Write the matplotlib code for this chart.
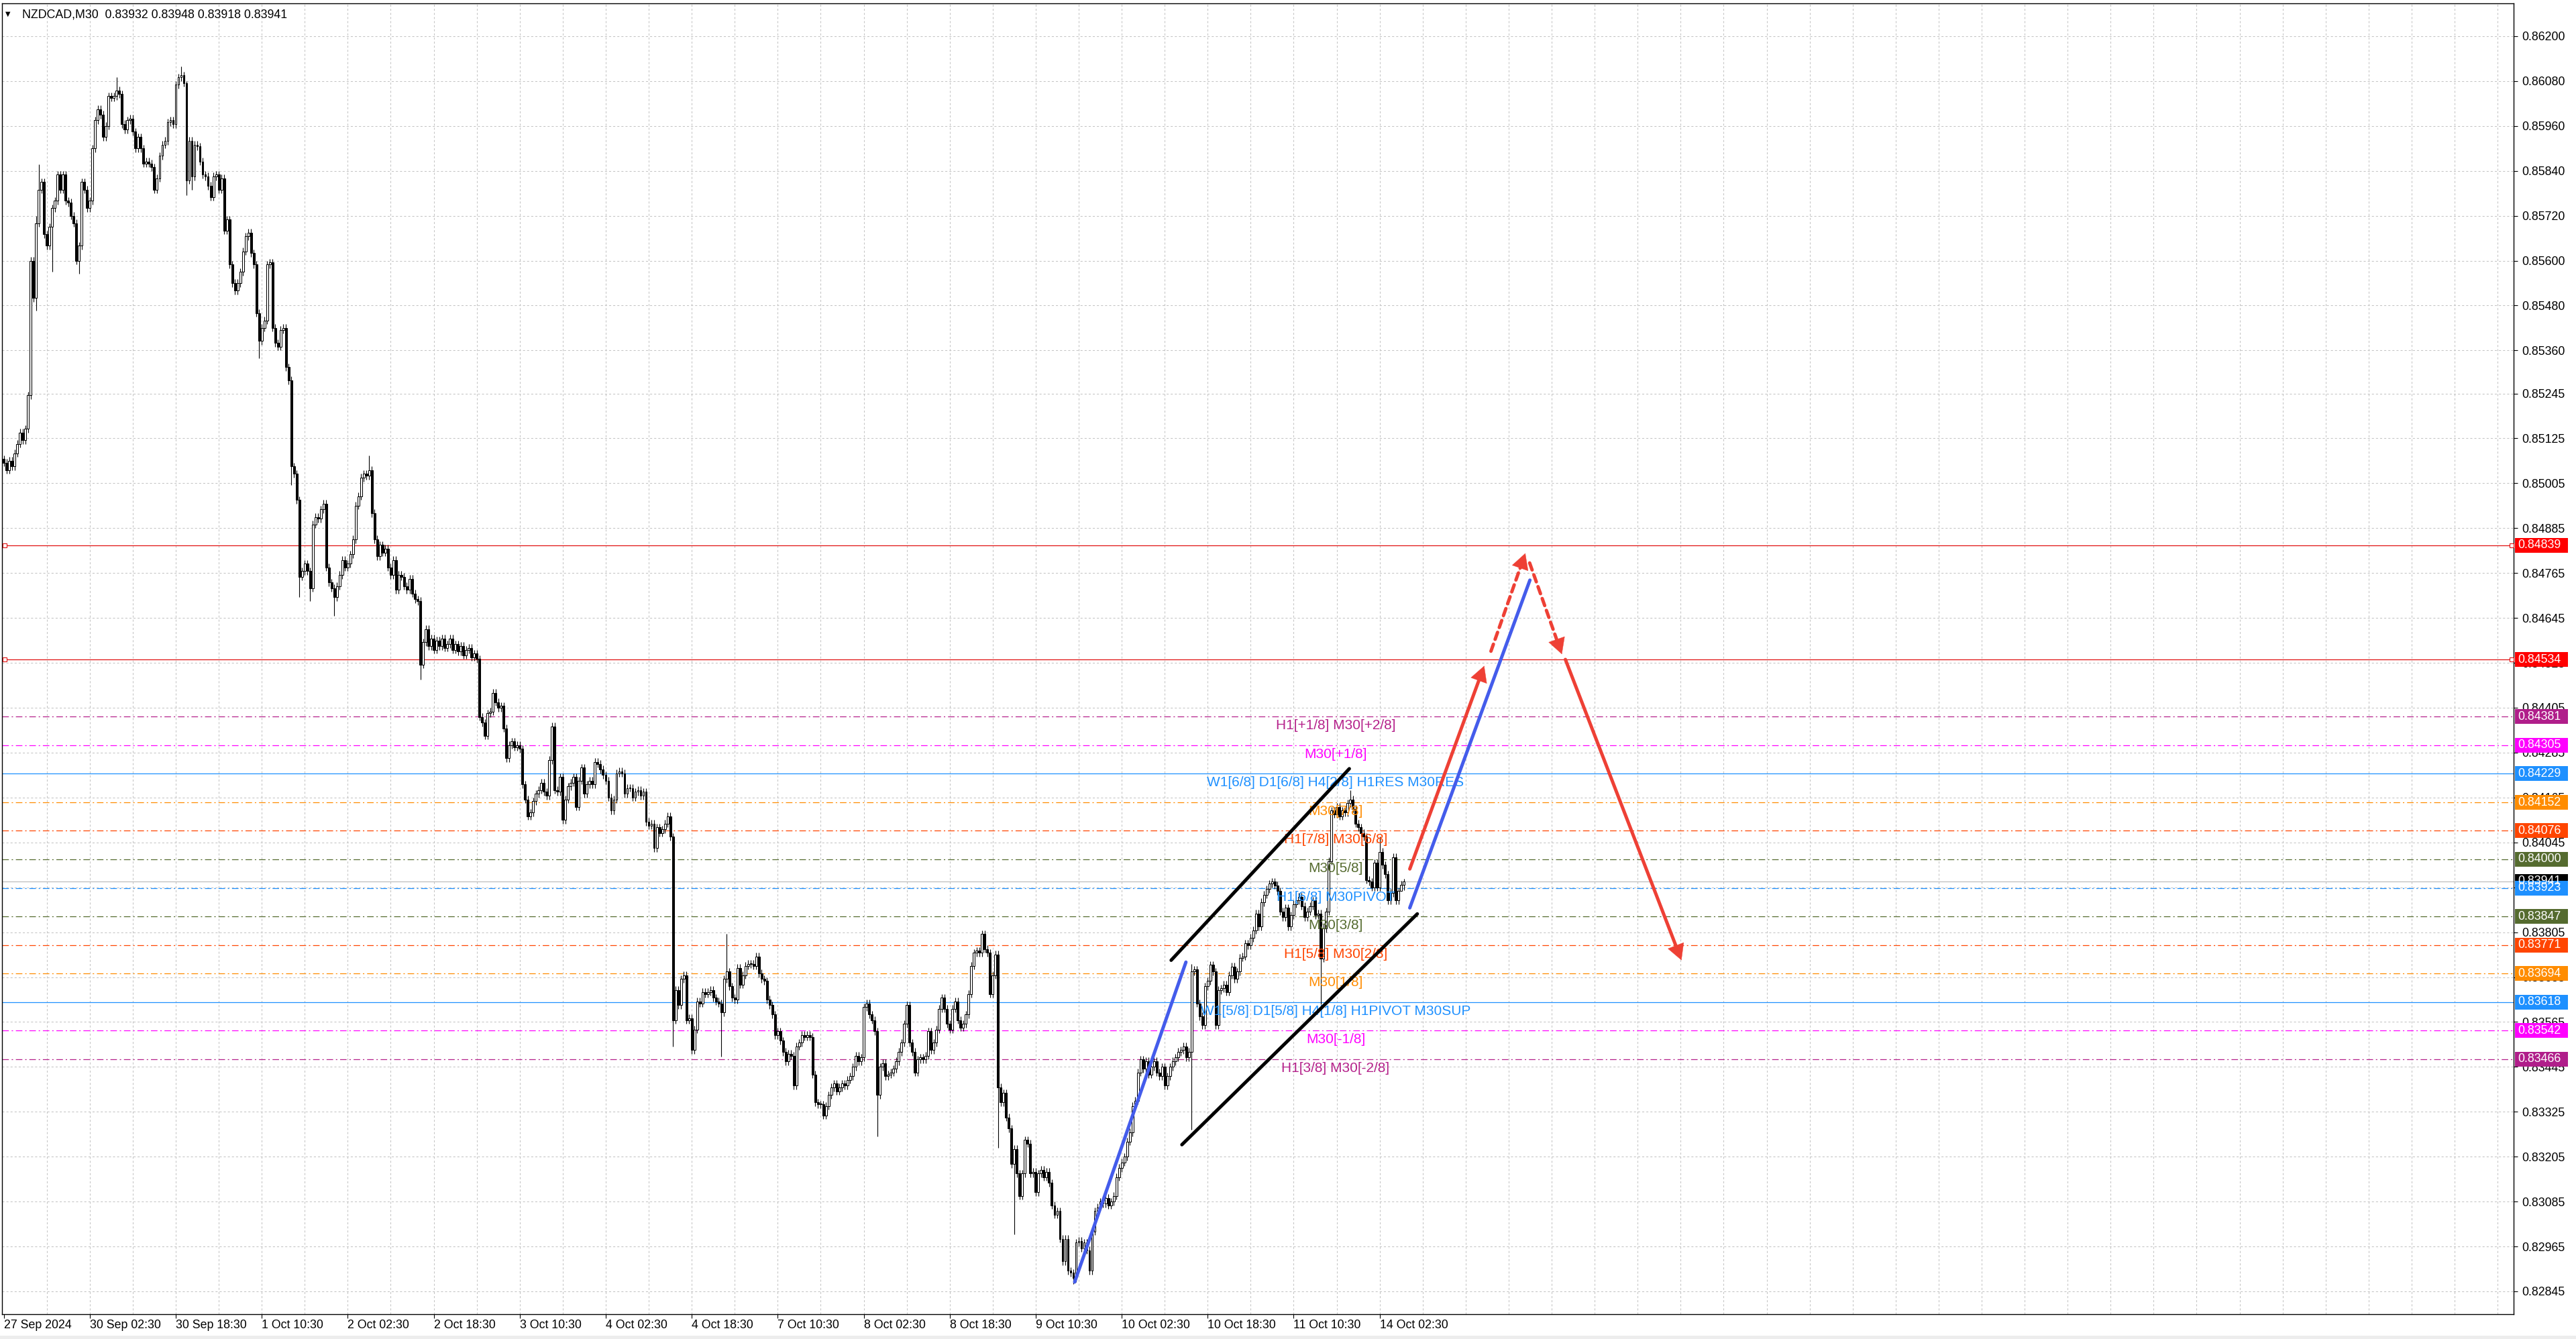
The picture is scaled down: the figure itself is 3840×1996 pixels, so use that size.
import numpy as np
import matplotlib
matplotlib.use("Agg")
import matplotlib.pyplot as plt
from matplotlib.patches import Rectangle, ArrowStyle
from matplotlib.transforms import IdentityTransform

plt.rcParams['lines.scale_dashes'] = False
FONT = 'Liberation Sans'

# ---------------- data ----------------
symbol = "NZDCAD"
timeframe = "M30"
first_open_pips = 85070
close_pips = [
    85060, 85040, 85065, 85050, 85085, 85110, 85140, 85120, 85150, 85240,
    85600, 85500, 85700, 85790, 85810, 85670, 85640, 85690, 85740, 85760,
    85830, 85790, 85830, 85760, 85755, 85720, 85700, 85600, 85640, 85810,
    85790, 85740, 85760, 85900, 85975, 86005, 85990, 85930, 85960, 86040,
    86035, 86040, 86055, 86045, 85965, 85950, 85975, 85980, 85945, 85900,
    85930, 85900, 85860, 85865, 85860, 85850, 85790, 85820, 85880, 85910,
    85920, 85970, 85975, 85965, 86070, 86090, 86095, 86075, 85815, 85920,
    85825, 85910, 85905, 85865, 85830, 85825, 85800, 85770, 85825, 85830,
    85790, 85820, 85680, 85710, 85590, 85540, 85520, 85540, 85570, 85625,
    85665, 85675, 85620, 85590, 85460, 85385, 85420, 85440, 85590, 85595,
    85420, 85380, 85370, 85415, 85420, 85315, 85280, 85050, 85030, 84960,
    84755, 84770, 84790, 84770, 84725, 84895, 84915, 84910, 84935, 84950,
    84780, 84740, 84725, 84700, 84730, 84760, 84800, 84780, 84790, 84815,
    84855, 84945, 84970, 85020, 85030, 85025, 85040, 84925, 84855, 84810,
    84840, 84820, 84830, 84780, 84760, 84800, 84720, 84760, 84755, 84730,
    84720, 84750, 84710, 84695, 84690, 84520, 84580, 84615, 84570, 84590,
    84560, 84585, 84570, 84590, 84565, 84575, 84590, 84560, 84575, 84555,
    84570, 84545, 84560, 84565, 84540, 84550, 84535, 84380, 84365, 84330,
    84390, 84395, 84445, 84420, 84405, 84410, 84350, 84270, 84305, 84315,
    84300, 84305, 84295, 84200, 84160, 84115, 84125, 84155, 84175, 84185,
    84205, 84180, 84170, 84265, 84355, 84185, 84180, 84220, 84105, 84160,
    84195, 84205, 84220, 84140, 84210, 84245, 84175, 84200, 84210, 84200,
    84260, 84255, 84240, 84225, 84210, 84165, 84130, 84160, 84230, 84235,
    84230, 84175, 84190, 84190, 84165, 84180, 84185, 84170, 84180, 84100,
    84090, 84095, 84030, 84085, 84070, 84080, 84095, 84115, 84060, 83570,
    83650, 83610, 83680, 83690, 83570, 83575, 83490, 83545, 83620, 83615,
    83645, 83640, 83645, 83650, 83630, 83620, 83615, 83590, 83680, 83700,
    83660, 83630, 83625, 83710, 83665, 83690, 83715, 83720, 83720, 83715,
    83740, 83695, 83680, 83675, 83625, 83610, 83585, 83530, 83540, 83515,
    83485, 83460, 83480, 83475, 83395, 83500, 83510, 83530, 83525, 83530,
    83525, 83425, 83350, 83345, 83345, 83315, 83340, 83370, 83390, 83400,
    83380, 83390, 83400, 83395, 83410, 83420, 83445, 83475, 83460, 83470,
    83605, 83615, 83585, 83570, 83540, 83370, 83445, 83455, 83420, 83425,
    83430, 83440, 83460, 83485, 83510, 83560, 83610, 83510, 83485, 83430,
    83465, 83470, 83465, 83475, 83540, 83490, 83510, 83545, 83600, 83630,
    83600, 83560, 83545, 83600, 83620, 83570, 83550, 83560, 83585, 83640,
    83715, 83750, 83755, 83750, 83800, 83760, 83750, 83640, 83690, 83745,
    83390, 83350, 83375, 83310, 83280, 83185, 83225, 83160, 83100, 83160,
    83250, 83240, 83160, 83165, 83110, 83160, 83170, 83150, 83165, 83135,
    83075, 83050, 83060, 82985, 82925, 82985, 82900, 82895, 82880, 82975,
    82980, 82960, 82975, 82955, 82900, 83005, 83060, 83070, 83085, 83080,
    83095, 83075, 83085, 83100, 83150, 83175, 83190, 83205, 83245, 83270,
    83340, 83355, 83430, 83465, 83440, 83460, 83425, 83445, 83460, 83430,
    83420, 83445, 83395, 83420, 83445, 83460, 83470, 83485, 83490, 83500,
    83470, 83485, 83700, 83705, 83615, 83580, 83556, 83660, 83675, 83718,
    83700, 83556, 83650, 83655, 83665, 83645, 83690, 83713, 83680, 83700,
    83737, 83740, 83775, 83770, 83790, 83810, 83855, 83820, 83885, 83905,
    83920, 83935, 83940, 83930, 83915, 83860, 83845, 83870, 83820, 83850,
    83880, 83890, 83900, 83875, 83845, 83860, 83875, 83890, 83850, 83855,
    83735, 83815, 83860, 83995, 84130, 84120, 84140, 84115, 84130, 84125,
    84150, 84160, 84135, 84095, 84085, 84070, 84060, 83945, 83940, 83925,
    83990, 83925, 84020, 83985, 83960, 83890, 83910, 84005, 83890, 83915,
    83932, 83941,
]
# notable wick extremes (bar index -> price)
high_override = {10: 0.85610, 12: 0.85720, 13: 0.85857, 42: 0.86090, 66: 0.86120,
                 68: 0.86080, 136: 0.85080, 269: 0.83801, 442: 0.83720,
                 501: 0.84184, 512: 0.84060, 521: 0.83948}
low_override = {12: 0.85467, 18: 0.85571, 28: 0.85565, 68: 0.85775, 70: 0.85790,
                95: 0.85339, 107: 0.85000, 110: 0.84700, 114: 0.84690, 123: 0.84650,
                155: 0.84480, 249: 0.83500, 267: 0.83473, 325: 0.83260, 370: 0.83229,
                376: 0.82997, 398: 0.82865, 442: 0.83277, 490: 0.83613, 520: 0.83918,
                521: 0.83918}

xtick_bars = list(range(0, 513, 32))
xtick_labels = ["27 Sep 2024", "30 Sep 02:30", "30 Sep 18:30", "1 Oct 10:30", "2 Oct 02:30",
                "2 Oct 18:30", "3 Oct 10:30", "4 Oct 02:30", "4 Oct 18:30", "7 Oct 10:30",
                "8 Oct 02:30", "8 Oct 18:30", "9 Oct 10:30", "10 Oct 02:30", "10 Oct 18:30",
                "11 Oct 10:30", "14 Oct 02:30"]
ytick_vals = [0.86200, 0.86080, 0.85960, 0.85840, 0.85720, 0.85600, 0.85480, 0.85360,
              0.85245, 0.85125, 0.85005, 0.84885, 0.84765, 0.84645, 0.84525, 0.84405,
              0.84285, 0.84165, 0.84045, 0.83925, 0.83805, 0.83685, 0.83565, 0.83445,
              0.83325, 0.83205, 0.83085, 0.82965, 0.82845]

level_prices = [0.84381, 0.84305, 0.84229, 0.84152, 0.84076, 0.84000, 0.83923,
                0.83847, 0.83771, 0.83694, 0.83618, 0.83542, 0.83466]
level_names = ["H1[+1/8] M30[+2/8]", "M30[+1/8]", "W1[6/8] D1[6/8] H4[2/8] H1RES M30RES",
               "M30[7/8]", "H1[7/8] M30[6/8]", "M30[5/8]", "H1[6/8] M30PIVOT", "M30[3/8]",
               "H1[5/8] M30[2/8]", "M30[1/8]", "W1[5/8] D1[5/8] H4[1/8] H1PIVOT M30SUP",
               "M30[-1/8]", "H1[3/8] M30[-2/8]"]
level_colors = ["#B5228B", "#FF00FF", "#1E90FF", "#FF8C00", "#FF4500", "#556B2F", "#1E90FF",
                "#556B2F", "#FF4500", "#FF8C00", "#1E90FF", "#FF00FF", "#B5228B"]
level_solid = [False, False, True, False, False, False, False,
               False, False, False, True, False, False]
red_levels = [0.84839, 0.84534]

blue_x = [[398.5, 439.9], [523.2, 567.9]]
blue_y = [[0.82870, 0.83725], [0.83870, 0.84746]]
channel_x = [[434.4, 500.7], [438.4, 526.0]]
channel_y = [[0.83730, 0.84242], [0.83237, 0.83854]]
arrow_x = [[523.2, 550.9], [553.4, 566.2], [567.8, 579.8], [581.1, 624.3]]
arrow_y = [[0.83974, 0.84517], [0.84556, 0.84818], [0.84792, 0.84548], [0.84534, 0.83730]]
arrow_dashed = [False, True, True, False]

# ---------------- layout ----------------
W, H = 3840, 1996
PX_L, PX_R, PX_T, PX_B = 3, 3747, 5, 1959
BAR0_PX, BAR_PX = 5.6, 4.006
P_REF, P_REF_PX, PX_PER_PRICE = 0.862, 53.9, 55770.0

fig = plt.figure(figsize=(W / 100, H / 100), dpi=100)
fig.patch.set_facecolor('white')
ax = fig.add_axes([PX_L / W, (H - PX_B) / H, (PX_R - PX_L) / W, (PX_B - PX_T) / H])
ax.set_facecolor('white')
xl = ((PX_L - BAR0_PX) / BAR_PX, (PX_R - BAR0_PX) / BAR_PX)
yl = (P_REF - (PX_B - P_REF_PX) / PX_PER_PRICE, P_REF + (P_REF_PX - PX_T) / PX_PER_PRICE)
ax.set_xlim(*xl)
ax.set_ylim(*yl)

GRID = '#C4C4C4'
for b in range(16, int(xl[1]) + 1, 16):
    ax.axvline(b, color=GRID, lw=0.75, dashes=(2.2, 2.2), zorder=1)
for p in ytick_vals:
    ax.axhline(p, color=GRID, lw=0.75, dashes=(2.2, 2.2), zorder=1)

# levels
for p, col, solid in zip(level_prices, level_colors, level_solid):
    if solid:
        ax.axhline(p, color=col, lw=0.9, zorder=2)
    else:
        ax.axhline(p, color=col, lw=0.9, dashes=(7, 3, 1.5, 3), zorder=2)
RED = '#E01010'
for p in red_levels:
    ax.axhline(p, color=RED, lw=0.9, zorder=2)
    ax.plot([xl[0] + 1.0, xl[1] - 0.8], [p, p], 's', ms=4, mfc='white', mec=RED, mew=0.8,
            zorder=5, clip_on=False)

# candles
c = np.array(close_pips) / 1e5
o = np.r_[first_open_pips / 1e5, c[:-1]]
x = np.arange(len(c))
WICK = 0.0001
hi = np.maximum(o, c) + WICK
lo = np.minimum(o, c) - WICK
for k, v in high_override.items():
    hi[k] = max(v, o[k], c[k])
for k, v in low_override.items():
    lo[k] = min(v, o[k], c[k])
last_close = c[-1]
ax.axhline(last_close, color='#BDBDBD', lw=0.9, zorder=2)

ax.vlines(x, lo, hi, color='black', lw=0.8, zorder=3)
up = c >= o
body_h = np.maximum(np.abs(c - o), 0.000012)
ax.bar(x, body_h, bottom=np.minimum(o, c), width=0.72,
       color=np.where(up, 'white', 'black'), edgecolor='black', linewidth=0.75, zorder=4)

# level texts
LABEL_BAR = 495.6
for p, name, col in zip(level_prices, level_names, level_colors):
    ax.annotate(name, xy=(LABEL_BAR, p), xytext=(0, -4), textcoords='offset pixels',
                ha='center', va='top', fontsize=15, color=col, family=FONT, zorder=6)

# trend lines
BLUE = '#445CEB'
for xs, ys in zip(blue_x, blue_y):
    ax.plot(xs, ys, color=BLUE, lw=3.6, solid_capstyle='round', zorder=7)
for xs, ys in zip(channel_x, channel_y):
    ax.plot(xs, ys, color='black', lw=3.6, solid_capstyle='round', zorder=7)

ARED = '#EE4035'
for xs, ys, dashed in zip(arrow_x, arrow_y, arrow_dashed):
    p0 = ax.transData.transform((xs[0], ys[0]))
    p1 = ax.transData.transform((xs[1], ys[1]))
    L = np.hypot(*(p1 - p0))
    f = 1 - 14 / L
    xe = xs[0] + (xs[1] - xs[0]) * f
    ye = ys[0] + (ys[1] - ys[0]) * f
    if dashed:
        ax.plot([xs[0], xe], [ys[0], ye], color=ARED, lw=3.6, dashes=(8, 5.5),
                dash_capstyle='round', zorder=8)
    else:
        ax.plot([xs[0], xe], [ys[0], ye], color=ARED, lw=3.6, solid_capstyle='round', zorder=8)
    f2 = 1 - 30 / L
    ax.annotate('', xy=(xs[1], ys[1]),
                xytext=(xs[0] + (xs[1] - xs[0]) * f2, ys[0] + (ys[1] - ys[0]) * f2),
                arrowprops=dict(arrowstyle=ArrowStyle('-|>', head_length=0.55, head_width=0.3),
                                mutation_scale=30, fc=ARED, ec=ARED, lw=0.3,
                                shrinkA=0, shrinkB=0), zorder=8)

# axes styling
for s in ax.spines.values():
    s.set_color('black')
    s.set_linewidth(1.0)
ax.yaxis.tick_right()
ax.set_yticks(ytick_vals)
ax.set_yticklabels([f"{v:.5f}" for v in ytick_vals])
ax.set_xticks(xtick_bars)
ax.set_xticklabels(xtick_labels)
ax.tick_params(axis='y', length=4, width=0.8, pad=5, labelsize=12.8, colors='black')
ax.tick_params(axis='x', length=4, width=0.8, pad=2, labelsize=12.8, colors='black')
for lbl in ax.get_xticklabels():
    lbl.set_ha('left')
    lbl.set_family(FONT)
for lbl in ax.get_yticklabels():
    lbl.set_family(FONT)

# price tags on the right scale
tags = list(zip(red_levels, [RED, RED]))
for p, col in zip(level_prices, level_colors):
    if p < last_close and (last_close, 'black') not in tags:
        tags.append((last_close, 'black'))
    tags.append((p, col))
tag_colors = {'#E01010': '#FF0000', '#B5228B': '#B01E8A'}
for p, col in tags:
    yp = ax.transData.transform((0, p))[1]
    fig.add_artist(Rectangle((3749, yp - 11), 79, 22, transform=IdentityTransform(),
                             facecolor=tag_colors.get(col, col), edgecolor='none', zorder=1))
    fig.text(3753 / W, yp / H, f"{p:.5f}", color='white', fontsize=12.8, family=FONT,
             ha='left', va='center', zorder=3)

# header
header = f"{symbol},{timeframe}  {o[-1]:.5f} {hi[-1]:.5f} {lo[-1]:.5f} {c[-1]:.5f}"
fig.text(33 / W, 1 - 22 / H, header, fontsize=12.8, family=FONT, ha='left', va='center')
fig.text(8 / W, 1 - 21 / H, "\u25BC", fontsize=7, family='DejaVu Sans', ha='left', va='center')

fig.add_artist(Rectangle((0, 0), W, 5, transform=IdentityTransform(),
                         facecolor='#EDEDED', edgecolor='none', zorder=1))

fig.savefig('out.png', dpi=100, facecolor='white')
